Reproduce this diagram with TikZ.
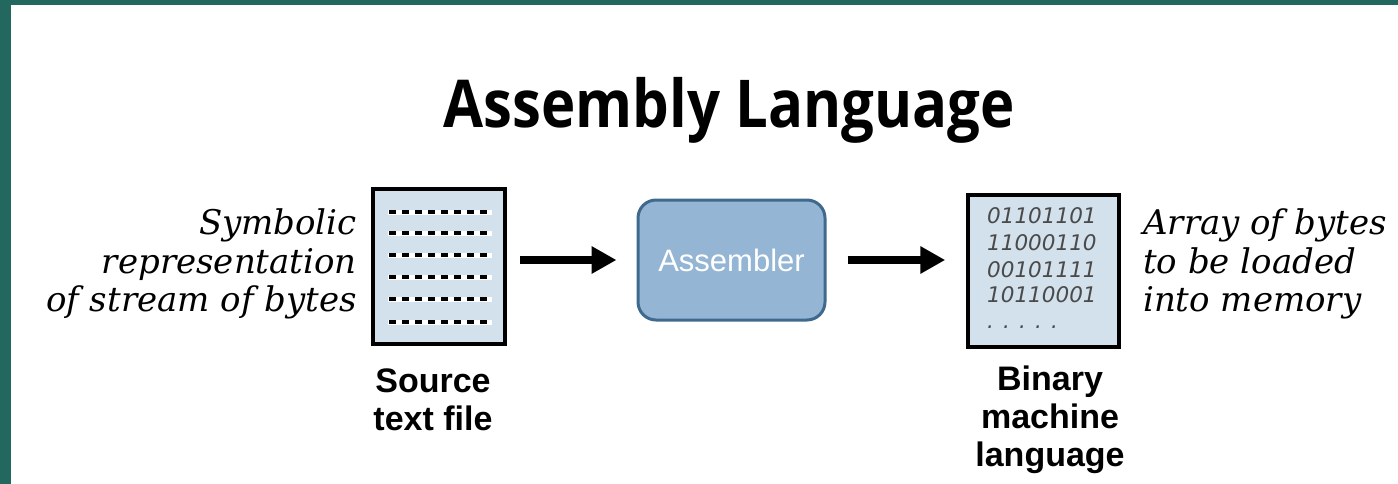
\documentclass[tikz,border=0pt]{standalone}
\usepackage{fontspec}
\usetikzlibrary{arrows.meta}
\setmainfont{Liberation Sans}
\newfontfamily\titlefont[FakeStretch=0.88]{Open Sans}
\newfontfamily\descfont{DejaVu Serif}
\newfontfamily\digfont{DejaVu Sans}
\definecolor{teal1}{HTML}{22685F}
\definecolor{filelight}{HTML}{D3E1EC}
\definecolor{asmfill}{HTML}{94B5D3}
\definecolor{asmdraw}{HTML}{3F6A8E}
\definecolor{diggray}{HTML}{4A4A4A}
\tikzset{
  filebox/.style={draw=black, line width=3.5pt, fill=filelight},
  asmbox/.style={draw=asmdraw, line width=3pt, fill=asmfill, rounded corners=18pt,
    minimum width=187pt, minimum height=120pt, inner sep=0pt,
    text=white, font=\fontsize{31}{31}\selectfont},
  desc/.style={inner sep=0pt, font=\descfont\itshape\fontsize{34}{34}\selectfont},
  lab/.style={inner sep=0pt, anchor=base, font=\bfseries\fontsize{34}{34}\selectfont},
  digits/.style={inner sep=0pt, anchor=base west, text=diggray, font=\digfont\itshape\fontsize{21.5}{21.5}\selectfont},
  flow/.style={line width=8pt, -{Triangle[width=26pt,length=25pt]}},
}
\begin{document}
\begin{tikzpicture}[x=1pt,y=-1pt]
\fill[teal1] (0,0) rectangle (1398,484);
\fill[white] (11,5) rectangle (1398,484);
\useasboundingbox (0,0) rectangle (1398,484);
% title
\node[inner sep=0pt, anchor=base, font=\titlefont\bfseries\fontsize{66}{66}\selectfont] (title) at (729,128) {Assembly Language};
% source file
\node[filebox, minimum width=132pt, minimum height=155pt, inner sep=0pt] (src) at (439,266.5) {};
\foreach \yy in {212,233,255,277,299,322}{
  \draw[white, line width=5pt] (388,\yy) -- (492,\yy);
  \draw[black, line width=4pt, dash pattern=on 7pt off 6pt] (389,\yy) -- (492,\yy);
}
% assembler
\node[asmbox] (asm) at (731.5,260) {Assembler};
% binary file
\node[filebox, minimum width=151pt, minimum height=152pt, inner sep=0pt] (bin) at (1043.5,271) {};
\node[digits] (d1) at (987,223) {01101101};
\node[digits] (d2) at (987,250) {11000110};
\node[digits] (d3) at (987,277) {00101111};
\node[digits] (d4) at (987,302) {10110001};
\node[digits] (d5) at (987,328) {. . . . .};
% arrows
\draw[flow, shorten <=13pt, shorten >=20pt] (src.east |- asm.west) -- (asm.west);
\draw[flow, shorten <=21pt, shorten >=21pt] (asm.east) -- (bin.west |- asm.east);
% left description
\node[desc, anchor=base east] (l1) at (357,234) {Symbolic};
\node[desc, anchor=base east] (l2) at (357,273) {representation};
\node[desc, anchor=base east] (l3) at (357,311) {of stream of bytes};
% right description
\node[desc, anchor=base west] (r1) at (1143,234) {Array of bytes};
\node[desc, anchor=base west] (r2) at (1143,273) {to be loaded};
\node[desc, anchor=base west] (r3) at (1143,311) {into memory};
% labels
\node[lab] (s1) at (433,392) {Source};
\node[lab] (s2) at (433,430) {text file};
\node[lab] (b1) at (1050,390) {Binary};
\node[lab] (b2) at (1050,428) {machine};
\node[lab] (b3) at (1050,466) {language};
\end{tikzpicture}
\end{document}
